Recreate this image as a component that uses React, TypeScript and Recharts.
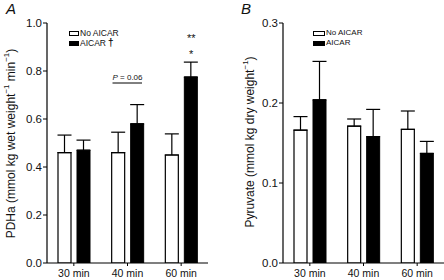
import React from "react";
import {
  BarChart,
  Bar,
  XAxis,
  YAxis,
  ErrorBar,
  Legend,
  ReferenceDot,
} from "recharts";

const categories = ["30 min", "40 min", "60 min"];
const seriesNames = ["No AICAR", "AICAR"];
const seriesFills = ["#fff", "#000"];

// panel A: PDHa
const pdhNoAicar = [0.46, 0.46, 0.45];
const pdhNoAicarErr = [0.073, 0.085, 0.088];
const pdhAicar = [0.47, 0.58, 0.775];
const pdhAicarErr = [0.042, 0.08, 0.062];
const pdhTicks = [0, 0.2, 0.4, 0.6, 0.8, 1.0];

// panel B: pyruvate
const pyrNoAicar = [0.166, 0.171, 0.167];
const pyrNoAicarErr = [0.017, 0.009, 0.023];
const pyrAicar = [0.204, 0.158, 0.137];
const pyrAicarErr = [0.048, 0.034, 0.015];
const pyrTicks = [0, 0.1, 0.2, 0.3];

const FONT = "'Liberation Sans', Arial, Helvetica, sans-serif";

const buildRows = (a: number[], aErr: number[], b: number[], bErr: number[]) =>
  categories.map((c, i) => ({
    name: c,
    no: a[i],
    noErr: [0, aErr[i]],
    yes: b[i],
    yesErr: [0, bErr[i]],
  }));

const pdhData = buildRows(pdhNoAicar, pdhNoAicarErr, pdhAicar, pdhAicarErr);
const pyrData = buildRows(pyrNoAicar, pyrNoAicarErr, pyrAicar, pyrAicarErr);

// rotated y title, placed by hand (recharts overrides x/y on cloned labels)
const AxisTitle = (props: any) => {
  const { tx, ty, text } = props;
  return (
    <text
      x={tx}
      y={ty}
      transform={`rotate(-90 ${tx} ${ty})`}
      textAnchor="middle"
      dominantBaseline="central"
      fontFamily={FONT}
      fontSize={12}
      fill="#111"
    >
      {text}
    </text>
  );
};

const Sup = ({ t }: { t: string }) => (
  <tspan baselineShift="super" fontSize={8}>
    {t}
  </tspan>
);

const LegendBox = (props: any) => {
  const { dagger, fontSize, boxW } = props;
  return (
    <div style={{ fontFamily: FONT, fontSize, lineHeight: "10px", color: "#111" }}>
      {seriesNames.map((n, i) => (
        <div key={n} style={{ display: "flex", alignItems: "center", whiteSpace: "nowrap", height: 10 }}>
          <span
            style={{
              display: "inline-block",
              width: boxW,
              height: 3,
              border: "1px solid #000",
              background: seriesFills[i],
              marginRight: 1,
            }}
          />
          <span>{n}</span>
          {dagger && i === 1 ? (
            <span style={{ fontSize: 10, fontWeight: "bold", marginLeft: 2, lineHeight: "10px" }}>†</span>
          ) : null}
        </div>
      ))}
    </div>
  );
};

const PLabel = (props: any) => {
  const { cx, cy } = props;
  return (
    <g>
      <line x1={cx - 15} y1={cy} x2={cx + 14.5} y2={cy} stroke="#000" strokeWidth={1} />
      <text x={cx} y={cy - 3.5} textAnchor="middle" fontFamily={FONT} fontSize={8} fill="#111">
        <tspan fontStyle="italic">P</tspan> = 0.06
      </text>
    </g>
  );
};

const Stars = (props: any) => {
  const { cx, cy, text } = props;
  return (
    <text x={cx + 10} y={cy + 6} textAnchor="middle" fontFamily={FONT} fontSize={11} fill="#111">
      {text}
    </text>
  );
};

const tickY = { fontFamily: FONT, fontSize: 11.5, fill: "#111" };
const tickX = { fontFamily: FONT, fontSize: 10.5, fill: "#111" };

const Panel = (props: any) => {
  const { data, ticks, domain, yWidth, right, title, titleX, titleY, legendLeft, dagger, legendFont, boxW, children } =
    props;
  return (
    <BarChart
      width={222}
      height={280}
      data={data}
      margin={{ top: 23, right, bottom: 0, left: 0 }}
      barSize={13}
      barGap={6}
    >
      <XAxis
        dataKey="name"
        height={17}
        tick={tickX}
        tickSize={3}
        tickMargin={4}
        axisLine={{ stroke: "#000", strokeWidth: 1.2 }}
        tickLine={{ stroke: "#000" }}
        interval={0}
      />
      <YAxis
        width={yWidth}
        domain={domain}
        ticks={ticks}
        tick={tickY}
        tickFormatter={(v: number) => v.toFixed(1)}
        tickSize={4}
        tickMargin={1}
        axisLine={{ stroke: "#000", strokeWidth: 1.2 }}
        tickLine={{ stroke: "#000" }}
        allowDataOverflow
        label={<AxisTitle tx={titleX} ty={titleY} text={title} />}
      />
      <Legend
        layout="horizontal"
        verticalAlign="middle"
        align="center"
        wrapperStyle={{ left: legendLeft, top: 28, width: "auto" }}
        content={<LegendBox dagger={dagger} fontSize={legendFont} boxW={boxW} />}
      />
      <Bar dataKey="no" name={seriesNames[0]} fill={seriesFills[0]} stroke="#000" strokeWidth={1.2} isAnimationActive={false}>
        <ErrorBar dataKey="noErr" width={7} stroke="#000" strokeWidth={1.2} direction="y" />
      </Bar>
      <Bar dataKey="yes" name={seriesNames[1]} fill={seriesFills[1]} stroke="#000" strokeWidth={1} isAnimationActive={false}>
        <ErrorBar dataKey="yesErr" width={7} stroke="#000" strokeWidth={1.2} direction="y" />
      </Bar>
      {children}
    </BarChart>
  );
};

const panelLetter = (left: number): React.CSSProperties => ({
  position: "absolute",
  left,
  top: 0,
  fontFamily: FONT,
  fontStyle: "italic",
  fontSize: 15,
  color: "#111",
});

export default function App() {
  return (
    <div style={{ position: "absolute", left: 0, top: 0, width: 444, height: 280, background: "#fff" }}>
      <div style={{ position: "absolute", left: 0, top: 0 }}>
        <Panel
          data={pdhData}
          ticks={pdhTicks}
          domain={[0, 1]}
          yWidth={47}
          right={14}
          titleX={11}
          titleY={143.5}
          legendLeft={69}
          legendFont={8.5}
          boxW={8}
          dagger
          title={
            <>
              PDHa (mmol kg wet weight<Sup t="−1" /> min<Sup t="−1" />)
            </>
          }
        >
          <ReferenceDot x="40 min" y={0.75} r={0} shape={<PLabel />} />
          <ReferenceDot x="60 min" y={0.946} r={0} shape={<Stars text="**" />} />
          <ReferenceDot x="60 min" y={0.879} r={0} shape={<Stars text="*" />} />
        </Panel>
      </div>
      <div style={{ position: "absolute", left: 222, top: 0 }}>
        <Panel
          data={pyrData}
          ticks={pyrTicks}
          domain={[0, 0.3]}
          yWidth={61}
          right={0}
          titleX={28}
          titleY={142}
          legendLeft={91}
          legendFont={8}
          boxW={10}
          dagger={false}
          title={
            <>
              Pyruvate (mmol kg dry weight<Sup t="−1" />)
            </>
          }
        />
      </div>
      <div style={panelLetter(6)}>A</div>
      <div style={panelLetter(241)}>B</div>
    </div>
  );
}
